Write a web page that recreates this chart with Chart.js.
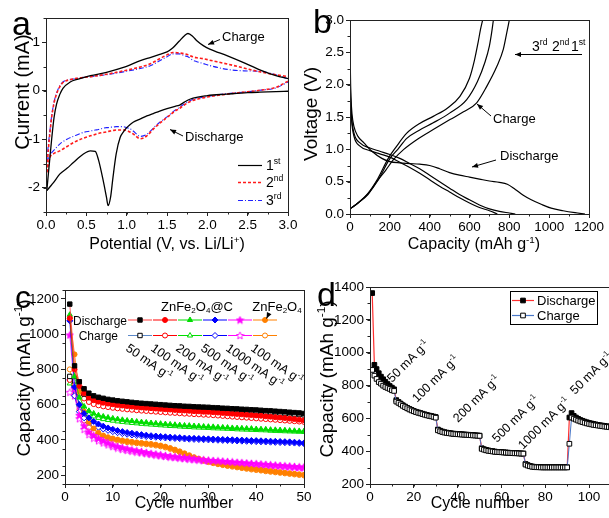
<!DOCTYPE html>
<html>
<head>
<meta charset="utf-8">
<script src="https://cdn.jsdelivr.net/npm/chart.js@4.4.1/dist/chart.umd.min.js"></script>
<style>
  html, body { margin: 0; padding: 0; background: #fff; width: 609px; height: 518px; overflow: hidden; }
  canvas { position: absolute; left: 0; top: 0; }
</style>
</head>
<body>
<canvas id="chartA" width="620" height="518"></canvas>
<canvas id="chartB" width="620" height="518"></canvas>
<canvas id="chartC" width="620" height="518"></canvas>
<canvas id="chartD" width="620" height="518"></canvas>
<script>
// ---------- panel a: cyclic voltammetry ----------
const aChargeV = [0.01, 0.03, 0.05, 0.07, 0.1, 0.13, 0.17, 0.21, 0.3, 0.4, 0.55, 0.75, 0.96, 1.17, 1.3, 1.41, 1.5, 1.57, 1.65, 1.72, 1.76, 1.82, 1.87, 1.95, 2.03, 2.25, 2.45, 2.65, 2.85, 3.0];
const a1Charge = [-2.06, -1.7, -1.35, -1.0, -0.55, -0.28, -0.08, 0.05, 0.18, 0.24, 0.31, 0.38, 0.48, 0.62, 0.69, 0.75, 0.8, 0.88, 1.02, 1.14, 1.18, 1.12, 1.03, 0.93, 0.86, 0.72, 0.58, 0.43, 0.31, 0.25];
const a2Charge = [-1.68, -1.2, -0.85, -0.55, -0.25, -0.07, 0.08, 0.17, 0.23, 0.26, 0.29, 0.34, 0.41, 0.49, 0.56, 0.66, 0.74, 0.79, 0.78, 0.76, 0.74, 0.7, 0.68, 0.66, 0.63, 0.55, 0.47, 0.39, 0.33, 0.29];
const a3Charge = [-1.47, -1.1, -0.8, -0.52, -0.23, -0.05, 0.1, 0.18, 0.23, 0.26, 0.29, 0.33, 0.39, 0.46, 0.52, 0.62, 0.7, 0.76, 0.76, 0.72, 0.7, 0.63, 0.6, 0.56, 0.52, 0.44, 0.41, 0.4, 0.33, 0.24];
const aDischargeV = [0.01, 0.05, 0.09, 0.17, 0.26, 0.34, 0.46, 0.55, 0.61, 0.65, 0.71, 0.75, 0.77, 0.8, 0.83, 0.87, 0.92, 0.96, 1.0, 1.04, 1.08, 1.17, 1.25, 1.33, 1.41, 1.5, 1.6, 1.65, 1.7, 1.79, 2.0, 2.24, 2.5, 2.65, 2.85, 3.0];
const a1Discharge = [-2.06, -1.98, -1.9, -1.72, -1.6, -1.48, -1.31, -1.24, -1.25, -1.42, -1.86, -2.2, -2.37, -2.2, -1.79, -1.3, -0.96, -0.85, -0.76, -0.7, -0.65, -0.58, -0.52, -0.47, -0.42, -0.37, -0.32, -0.3, -0.25, -0.17, -0.1, -0.07, -0.04, -0.03, -0.02, -0.01];
const a2Discharge = [-1.68, -1.37, -1.3, -1.24, -1.15, -1.07, -0.98, -0.93, -0.9, -0.88, -0.86, -0.85, -0.84, -0.83, -0.82, -0.81, -0.81, -0.81, -0.82, -0.85, -0.89, -0.99, -0.93, -0.79, -0.67, -0.55, -0.42, -0.37, -0.31, -0.22, -0.13, -0.07, -0.02, 0.01, 0.07, 0.2];
const a3Discharge = [-1.47, -1.32, -1.24, -1.1, -1.0, -0.94, -0.86, -0.83, -0.81, -0.8, -0.77, -0.76, -0.76, -0.75, -0.75, -0.74, -0.74, -0.74, -0.76, -0.78, -0.83, -0.94, -0.9, -0.77, -0.65, -0.54, -0.4, -0.35, -0.29, -0.2, -0.12, -0.06, -0.02, 0.01, 0.06, 0.18];
const aXTicks = [0, 0.5, 1, 1.5, 2, 2.5, 3];
const aXLabels = ['0.0', '0.5', '1.0', '1.5', '2.0', '2.5', '3.0'];
const aYTicks = [-2, -1, 0, 1];
const aYLabels = ['-2', '-1', '0', '1'];

// ---------- panel b: charge / discharge profiles ----------
const b1ChargeCap = [0, 40, 90, 134, 180, 218, 270, 335, 420, 502, 570, 636, 686, 737, 770, 787, 800];
const b1ChargeV = [0.08, 0.17, 0.3, 0.5, 0.68, 0.84, 1.0, 1.15, 1.31, 1.46, 1.58, 1.72, 1.97, 2.28, 2.55, 2.8, 3.0];
const b2ChargeCap = [0, 40, 90, 140, 201, 240, 285, 350, 418, 500, 586, 640, 678, 700, 711, 720];
const b2ChargeV = [0.08, 0.17, 0.31, 0.52, 0.86, 1.0, 1.17, 1.3, 1.41, 1.56, 1.77, 2.05, 2.35, 2.6, 2.8, 3.0];
const b3ChargeCap = [0, 40, 90, 140, 192, 230, 285, 350, 418, 490, 552, 600, 625, 643, 655, 666];
const b3ChargeV = [0.08, 0.17, 0.32, 0.55, 0.86, 1.03, 1.25, 1.4, 1.51, 1.64, 1.82, 2.1, 2.38, 2.65, 2.85, 3.0];
const b1DischargeCap = [0, 2, 5, 10, 20, 40, 70, 110, 160, 200, 250, 300, 350, 400, 450, 500, 550, 600, 650, 700, 750, 790, 830, 870, 910, 960, 1010, 1070, 1130, 1180];
const b1DischargeV = [2.85, 2.2, 1.8, 1.55, 1.35, 1.2, 1.1, 0.97, 0.86, 0.81, 0.79, 0.78, 0.77, 0.75, 0.7, 0.64, 0.6, 0.57, 0.54, 0.51, 0.49, 0.46, 0.38, 0.29, 0.22, 0.15, 0.09, 0.05, 0.02, 0];
const b2DischargeCap = [0, 3, 8, 20, 50, 100, 150, 200, 250, 300, 350, 400, 450, 500, 550, 600, 650, 700, 750, 800, 830];
const b2DischargeV = [2.3, 1.8, 1.5, 1.25, 1.1, 1.02, 0.97, 0.92, 0.86, 0.78, 0.7, 0.6, 0.5, 0.4, 0.3, 0.22, 0.14, 0.08, 0.04, 0.015, 0];
const b3DischargeCap = [0, 3, 8, 20, 50, 100, 150, 200, 250, 300, 350, 400, 450, 500, 550, 600, 650, 700, 740];
const b3DischargeV = [2.2, 1.75, 1.45, 1.2, 1.05, 0.98, 0.93, 0.88, 0.8, 0.72, 0.63, 0.53, 0.43, 0.34, 0.25, 0.17, 0.1, 0.05, 0];
const bXTicks = [0, 200, 400, 600, 800, 1000, 1200];
const bXLabels = ['0', '200', '400', '600', '800', '1000', '1200'];
const bYTicks = [0, 0.5, 1, 1.5, 2, 2.5, 3];
const bYLabels = ['0.0', '0.5', '1.0', '1.5', '2.0', '2.5', '3.0'];

// ---------- panel c: cycling at different rates ----------
const cBlackD = [1170, 820, 730, 690, 665, 650, 642, 636, 630, 626, 622, 619, 616, 613, 610, 608, 606, 604, 602, 600, 598, 596, 594, 593, 591, 590, 588, 587, 586, 585, 583, 582, 580, 579, 577, 576, 574, 573, 571, 570, 568, 566, 565, 563, 561, 559, 557, 555, 553, 550];
const cBlackC = [760, 735, 690, 660, 642, 632, 625, 620, 616, 612, 609, 606, 604, 601, 599, 597, 595, 593, 591, 590, 588, 586, 585, 583, 582, 580, 579, 578, 577, 575, 574, 572, 571, 569, 568, 566, 565, 563, 562, 560, 559, 557, 555, 554, 552, 550, 548, 546, 544, 542];
const cRedD = [1090, 800, 705, 665, 640, 625, 617, 611, 606, 602, 598, 595, 592, 589, 587, 584, 582, 580, 578, 576, 574, 572, 570, 568, 567, 565, 563, 562, 560, 559, 557, 555, 553, 551, 549, 547, 545, 543, 541, 539, 537, 534, 532, 529, 527, 524, 521, 518, 515, 512];
const cRedC = [740, 715, 665, 635, 615, 603, 596, 590, 586, 582, 579, 576, 573, 571, 568, 566, 564, 562, 560, 558, 556, 554, 553, 551, 549, 548, 546, 545, 543, 542, 540, 538, 536, 534, 532, 530, 528, 526, 524, 522, 520, 518, 516, 514, 512, 510, 508, 506, 504, 502];
const cGreenD = [1110, 760, 640, 590, 565, 550, 540, 533, 527, 522, 518, 514, 510, 507, 504, 501, 499, 496, 494, 492, 490, 488, 486, 484, 482, 481, 479, 478, 476, 475, 474, 472, 471, 470, 468, 467, 466, 465, 464, 462, 461, 460, 458, 457, 456, 455, 453, 452, 451, 450];
const cGreenC = [720, 690, 600, 565, 545, 533, 525, 518, 513, 509, 505, 502, 499, 496, 494, 491, 489, 487, 485, 483, 481, 479, 478, 476, 474, 473, 471, 470, 469, 468, 466, 465, 464, 463, 462, 460, 459, 458, 457, 456, 455, 454, 452, 451, 450, 449, 448, 447, 446, 445];
const cBlueD = [1075, 700, 600, 550, 525, 505, 490, 478, 468, 460, 453, 447, 442, 438, 434, 430, 427, 424, 422, 420, 418, 416, 414, 413, 411, 410, 409, 408, 407, 406, 405, 404, 403, 402, 401, 400, 399, 398, 397, 396, 395, 394, 393, 392, 391, 390, 389, 387, 385, 383];
const cBlueC = [740, 650, 560, 525, 500, 485, 472, 462, 454, 447, 441, 436, 432, 428, 425, 422, 419, 417, 415, 413, 411, 410, 408, 407, 405, 404, 403, 402, 401, 400, 399, 398, 397, 396, 395, 394, 393, 392, 391, 390, 389, 388, 387, 386, 385, 384, 383, 382, 380, 378];
const cMagentaD = [995, 690, 540, 480, 445, 425, 408, 395, 383, 372, 363, 356, 350, 344, 339, 334, 329, 324, 320, 316, 312, 308, 305, 302, 300, 297, 294, 291, 288, 285, 283, 281, 279, 277, 275, 273, 271, 269, 267, 265, 263, 261, 259, 257, 255, 253, 251, 249, 247, 246];
const cMagentaC = [670, 650, 520, 460, 430, 410, 395, 383, 372, 362, 354, 347, 341, 336, 331, 327, 322, 318, 314, 310, 306, 303, 300, 297, 294, 291, 288, 286, 283, 281, 279, 277, 275, 273, 271, 269, 267, 265, 263, 261, 259, 257, 255, 253, 251, 249, 247, 245, 243, 242];
const cOrangeD = [1090, 885, 675, 560, 500, 465, 440, 425, 415, 408, 402, 397, 393, 389, 386, 383, 380, 377, 373, 368, 362, 354, 345, 335, 324, 313, 302, 293, 285, 278, 272, 266, 261, 256, 252, 248, 244, 240, 236, 233, 230, 226, 223, 220, 217, 214, 211, 208, 205, 202];
const cOrangeC = [800, 660, 570, 510, 470, 445, 428, 416, 408, 401, 396, 391, 387, 384, 381, 378, 375, 372, 368, 363, 357, 349, 340, 330, 319, 308, 298, 289, 281, 274, 268, 262, 257, 252, 248, 244, 240, 236, 232, 229, 226, 222, 219, 216, 213, 210, 207, 204, 201, 198];
const cRates = ['50', '100', '200', '500', '1000', '100'];
const cXTicks = [0, 10, 20, 30, 40, 50];
const cXLabels = ['0', '10', '20', '30', '40', '50'];
const cYTicks = [200, 400, 600, 800, 1000, 1200];
const cYLabels = ['200', '400', '600', '800', '1000', '1200'];

// ---------- panel d: rate capability ----------
const dDischarge = [1363, 926, 900, 875, 854, 838, 823, 809, 797, 787, 777,
  711, 700, 690, 680, 672, 664, 657, 651, 645, 640, 636, 632, 628, 624, 620, 617, 614, 611, 608,
  532, 525, 520, 516, 513, 511, 509, 507, 506, 505, 504, 503, 502, 501, 500, 499, 498, 497, 496, 495,
  418, 412, 408, 405, 402, 400, 398, 396, 395, 394, 393, 392, 391, 390, 389, 388, 388, 387, 386, 386,
  322, 315, 310, 307, 305, 304, 303, 303, 302, 302, 302, 302, 302, 302, 302, 302, 302, 302, 302, 302,
  605, 632, 615, 605, 597, 590, 585, 580, 576, 572, 569, 566, 563, 560, 558, 556, 554, 552, 550, 548];
const dCharge = [895, 860, 840, 821, 811, 799, 791, 785, 779, 771, 767,
  702, 694, 685, 676, 668, 661, 654, 648, 643, 638, 634, 630, 626, 622, 618, 615, 612, 609, 604,
  527, 521, 517, 513, 511, 509, 507, 505, 504, 503, 502, 501, 500, 499, 498, 497, 496, 495, 494, 493,
  414, 409, 405, 402, 400, 398, 396, 395, 394, 393, 392, 391, 390, 389, 388, 387, 387, 386, 385, 385,
  318, 312, 308, 305, 303, 302, 302, 301, 301, 301, 301, 301, 301, 301, 301, 301, 301, 301, 301, 301,
  445, 605, 598, 592, 586, 581, 577, 573, 569, 566, 563, 560, 558, 556, 554, 552, 550, 548, 547, 545];
const dRates = ['50', '100', '200', '500', '1000', '50'];
const dXTicks = [0, 20, 40, 60, 80, 100];
const dXLabels = ['0', '20', '40', '60', '80', '100'];
const dYTicks = [200, 400, 600, 800, 1000, 1200, 1400];
const dYLabels = ['200', '400', '600', '800', '1000', '1200', '1400'];

// ---------- helpers ----------
const FONT = "'Liberation Sans', Arial, sans-serif";
const W = 620, H = 518;

const pts = (xs, ys) => xs.map((x, i) => ({ x: x, y: ys[i] }));
const cyc = ys => ys.map((y, i) => ({ x: i + 1, y: y }));

// draw text made of plain / superscript / subscript pieces
function richText(ctx, parts, x, y, size, align) {
  const pieces = parts.map(p => typeof p === 'string' ? [p, ''] : p);
  const w = pieces.reduce((s, [t, k]) => {
    ctx.font = (k ? size * 0.62 : size) + 'px ' + FONT;
    return s + ctx.measureText(t).width;
  }, 0);
  let cx = align === 'center' ? x - w / 2 : (align === 'right' ? x - w : x);
  ctx.textAlign = 'left';
  ctx.textBaseline = 'alphabetic';
  pieces.forEach(([t, k]) => {
    ctx.font = (k ? size * 0.62 : size) + 'px ' + FONT;
    const dy = k === 'sup' ? -size * 0.4 : (k === 'sub' ? size * 0.18 : 0);
    ctx.fillText(t, cx, y + dy);
    cx += ctx.measureText(t).width;
  });
}

function rotatedText(ctx, parts, x, y, size, angle, align) {
  ctx.save();
  ctx.translate(x, y);
  ctx.rotate(angle);
  richText(ctx, parts, 0, 0, size, align);
  ctx.restore();
}

function arrow(ctx, x1, y1, x2, y2) {
  const a = Math.atan2(y2 - y1, x2 - x1);
  ctx.beginPath();
  ctx.moveTo(x1, y1);
  ctx.lineTo(x2, y2);
  ctx.stroke();
  ctx.beginPath();
  ctx.moveTo(x2, y2);
  ctx.lineTo(x2 - 6 * Math.cos(a) + 2.5 * Math.sin(a), y2 - 6 * Math.sin(a) - 2.5 * Math.cos(a));
  ctx.lineTo(x2 - 6 * Math.cos(a) - 2.5 * Math.sin(a), y2 - 6 * Math.sin(a) + 2.5 * Math.cos(a));
  ctx.closePath();
  ctx.fill();
}

function starImage(color, filled) {
  const c = document.createElement('canvas');
  c.width = 9; c.height = 9;
  const g = c.getContext('2d');
  g.beginPath();
  for (let i = 0; i < 10; i++) {
    const r = i % 2 ? 1.7 : 3.9;
    const a = -Math.PI / 2 + i * Math.PI / 5;
    g.lineTo(4.5 + r * Math.cos(a), 4.8 + r * Math.sin(a));
  }
  g.closePath();
  g.fillStyle = filled ? color : '#fff';
  g.fill();
  g.strokeStyle = color;
  g.lineWidth = 0.9;
  g.stroke();
  return c;
}

// box around the plot + short minor ticks (Origin style)
const framePlugin = {
  id: 'frame',
  afterDraw(chart, args, o) {
    const { ctx, chartArea: a } = chart;
    const x = chart.scales.x, y = chart.scales.y;
    ctx.save();
    ctx.strokeStyle = '#222';
    ctx.lineWidth = 1;
    ctx.strokeRect(Math.round(a.left) + 0.5, Math.round(a.top) + 0.5, Math.round(a.right - a.left), Math.round(a.bottom - a.top));
    ctx.beginPath();
    for (let v = x.min; v <= x.max + 1e-9; v += o.xMinor) {
      const px = Math.round(x.getPixelForValue(v)) + 0.5;
      ctx.moveTo(px, a.bottom); ctx.lineTo(px, a.bottom + 2.5);
    }
    for (let v = y.min; v <= y.max + 1e-9; v += o.yMinor) {
      const py = Math.round(y.getPixelForValue(v)) + 0.5;
      ctx.moveTo(a.left, py); ctx.lineTo(a.left - 2.5, py);
    }
    ctx.stroke();
    ctx.restore();
  }
};

function axis(kind, s, area) {
  return {
    type: 'linear',
    min: s.min,
    max: s.max,
    afterBuildTicks: sc => { sc.ticks = s.ticks.map(v => ({ value: v })); },
    afterFit: sc => { if (kind === 'x') sc.height = H - area.b; else sc.width = area.l; },
    ticks: {
      autoSkip: false, maxRotation: 0, color: '#000', padding: kind === 'x' ? 1 : 2,
      font: { family: FONT, size: 13.5 },
      callback: (v, i) => s.labels[i]
    },
    grid: { drawOnChartArea: false, drawTicks: true, tickLength: 4, tickColor: '#222', lineWidth: 1 },
    border: { display: true, color: '#222', width: 1 }
  };
}

function options(area, xs, ys, minor) {
  return {
    responsive: false,
    animation: false,
    events: [],
    layout: { padding: { left: 0, top: area.t, right: W - area.r, bottom: 0 } },
    scales: { x: axis('x', xs, area), y: axis('y', ys, area) },
    plugins: { legend: { display: false }, tooltip: { enabled: false }, frame: minor }
  };
}

function line(data, color, width, dash) {
  return { data: data, showLine: true, borderColor: color, borderWidth: width, borderDash: dash || [],
           pointRadius: 0, cubicInterpolationMode: 'monotone', fill: false };
}

// ---------- chart a ----------
new Chart(document.getElementById('chartA'), {
  type: 'scatter',
  data: {
    datasets: [
      line(pts(aDischargeV, a1Discharge), '#000', 1.3),
      line(pts(aChargeV, a1Charge), '#000', 1.3),
      line(pts(aDischargeV, a2Discharge), '#ff1a1a', 1.6, [3, 2]),
      line(pts(aChargeV, a2Charge), '#ff1a1a', 1.6, [3, 2]),
      line(pts(aDischargeV, a3Discharge), '#2020ff', 1.1, [5, 2, 1, 2]),
      line(pts(aChargeV, a3Charge), '#2020ff', 1.1, [5, 2, 1, 2])
    ]
  },
  options: options({ l: 46, t: 18, r: 288, b: 212 },
    { min: 0, max: 3, ticks: aXTicks, labels: aXLabels },
    { min: -2.5, max: 1.5, ticks: aYTicks, labels: aYLabels },
    { xMinor: 0.25, yMinor: 0.5 }),
  plugins: [framePlugin, {
    id: 'decorA',
    afterDraw(chart) {
      const ctx = chart.ctx;
      ctx.save();
      ctx.fillStyle = '#000'; ctx.strokeStyle = '#000'; ctx.lineWidth = 1;
      richText(ctx, ['a'], 12, 35, 34, 'left');
      richText(ctx, ['Potential (V, vs. Li/Li', ['+', 'sup'], ')'], 167, 249, 16, 'center');
      rotatedText(ctx, ['Current (mA)'], 28.5, 92, 20, -Math.PI / 2, 'center');
      richText(ctx, ['Charge'], 222, 41, 13, 'left');
      arrow(ctx, 220, 39.5, 208, 44.5);
      richText(ctx, ['Discharge'], 185, 141, 13, 'left');
      arrow(ctx, 183, 136, 170, 129.5);
      // legend
      const rows = [[165, '#000', [], '1', 'st'], [182, '#ff1a1a', [3, 2], '2', 'nd'], [200, '#2020ff', [5, 2, 1, 2], '3', 'rd']];
      rows.forEach(([y, c, d, n, s]) => {
        ctx.save();
        ctx.strokeStyle = c; ctx.lineWidth = c === '#ff1a1a' ? 1.6 : 1.2; ctx.setLineDash(d);
        ctx.beginPath(); ctx.moveTo(238, y + 0.5); ctx.lineTo(262, y + 0.5); ctx.stroke();
        ctx.restore();
        richText(ctx, [n, [s, 'sup']], 266, y + 5, 14, 'left');
      });
      ctx.restore();
    }
  }]
});

// ---------- chart b ----------
new Chart(document.getElementById('chartB'), {
  type: 'scatter',
  data: {
    datasets: [
      line(pts(b1DischargeCap, b1DischargeV), '#000', 1.2),
      line(pts(b2DischargeCap, b2DischargeV), '#000', 1.2),
      line(pts(b3DischargeCap, b3DischargeV), '#000', 1.2),
      line(pts(b1ChargeCap, b1ChargeV), '#000', 1.2),
      line(pts(b2ChargeCap, b2ChargeV), '#000', 1.2),
      line(pts(b3ChargeCap, b3ChargeV), '#000', 1.2)
    ]
  },
  options: options({ l: 350, t: 20, r: 589, b: 214 },
    { min: 0, max: 1200, ticks: bXTicks, labels: bXLabels },
    { min: 0, max: 3, ticks: bYTicks, labels: bYLabels },
    { xMinor: 100, yMinor: 0.25 }),
  plugins: [framePlugin, {
    id: 'decorB',
    afterDraw(chart) {
      const ctx = chart.ctx;
      ctx.save();
      ctx.fillStyle = '#000'; ctx.strokeStyle = '#000'; ctx.lineWidth = 1;
      richText(ctx, ['b'], 313, 33, 34, 'left');
      richText(ctx, ['Capacity (mAh g', ['-1', 'sup'], ')'], 474, 249, 16, 'center');
      rotatedText(ctx, ['Voltage (V)'], 316.5, 114, 19, -Math.PI / 2, 'center');
      richText(ctx, ['Charge'], 493, 123, 13, 'left');
      arrow(ctx, 491, 116, 477, 104);
      richText(ctx, ['Discharge'], 500, 160, 13, 'left');
      arrow(ctx, 496, 160, 472, 167);
      richText(ctx, ['3', ['rd', 'sup']], 532, 51, 14, 'left');
      richText(ctx, ['2', ['nd', 'sup']], 552, 51, 14, 'left');
      richText(ctx, ['1', ['st', 'sup']], 571, 51, 14, 'left');
      arrow(ctx, 582, 54.5, 515, 54.5);
      ctx.restore();
    }
  }]
});

// ---------- chart c ----------
const cColors = ['#000000', '#ff0000', '#00dd00', '#0000ff', '#ff00ff', '#ff8000'];
const cLineD = ['#ff4040', '#ff0000', '#00dd00', '#0000ff', '#ff00ff', '#ff8000'];
const cLineC = ['#5b88c8', '#ff0000', '#00dd00', '#0000ff', '#ff00ff', '#ff8000'];
const cStyles = ['rect', 'circle', 'triangle', 'rectRot', 'star', 'circle'];
const cRadius = { rect: 3.1, circle: 2.5, triangle: 3.0, rectRot: 3.0, star: 4 };
const cD = [cBlackD, cRedD, cGreenD, cBlueD, cMagentaD, cOrangeD];
const cC = [cBlackC, cRedC, cGreenC, cBlueC, cMagentaC, cOrangeC];

function cPoint(i, filled) {
  const st = cStyles[i];
  return {
    pointStyle: st === 'star' ? starImage(cColors[i], filled) : st,
    pointRadius: cRadius[st],
    pointBackgroundColor: filled ? cColors[i] : '#fff',
    pointBorderColor: cColors[i],
    pointBorderWidth: 1
  };
}

const cDatasets = [];
cD.forEach((vals, i) => {
  cDatasets.push(Object.assign({ data: cyc(vals), showLine: true, borderColor: cLineD[i], borderWidth: 0.8 }, cPoint(i, true)));
});
cC.forEach((vals, i) => {
  cDatasets.push(Object.assign({ data: cyc(vals), showLine: true, borderColor: cLineC[i], borderWidth: 0.8 }, cPoint(i, false)));
});

new Chart(document.getElementById('chartC'), {
  type: 'scatter',
  data: { datasets: cDatasets },
  options: options({ l: 65, t: 290, r: 304, b: 484 },
    { min: 0, max: 50, ticks: cXTicks, labels: cXLabels },
    { min: 150, max: 1250, ticks: cYTicks, labels: cYLabels },
    { xMinor: 5, yMinor: 100 }),
  plugins: [framePlugin, {
    id: 'decorC',
    afterDraw(chart) {
      const ctx = chart.ctx;
      ctx.save();
      ctx.fillStyle = '#000'; ctx.strokeStyle = '#000'; ctx.lineWidth = 1;
      richText(ctx, ['c'], 15, 308, 32, 'left');
      richText(ctx, ['Cycle number'], 184, 508, 16, 'center');
      rotatedText(ctx, ['Capacity (mAh g', ['-1', 'sup'], ')'], 30, 378, 19, -Math.PI / 2, 'center');
      const xs = [140, 165, 190, 215, 240, 265];
      xs.forEach((x, i) => {
        [[320, true, cLineD[i]], [335.5, false, cLineC[i]]].forEach(([y, filled, lc]) => {
          ctx.save();
          ctx.fillStyle = '#fff';
          ctx.fillRect(x - 12.5, y - 4, 25, 8);
          ctx.strokeStyle = lc; ctx.lineWidth = 1;
          ctx.beginPath(); ctx.moveTo(x - 12, y); ctx.lineTo(x + 12, y); ctx.stroke();
          ctx.strokeStyle = cColors[i];
          ctx.fillStyle = filled ? cColors[i] : '#fff';
          const p = cPoint(i, filled);
          Chart.helpers.drawPoint(ctx, { pointStyle: p.pointStyle, radius: p.pointRadius, rotation: 0, borderWidth: 1 }, x, y);
          ctx.restore();
        });
        ctx.fillStyle = '#000';
        rotatedText(ctx, [cRates[i] + ' mA g', ['-1', 'sup']], x - 15, 350, 12.5, 35 * Math.PI / 180, 'left');
      });
      richText(ctx, ['Discharge'], 127, 324.5, 12, 'right');
      richText(ctx, ['Charge'], 118, 340, 12, 'right');
      richText(ctx, ['ZnFe', ['2', 'sub'], 'O', ['4', 'sub'], '@C'], 197, 311, 13, 'center');
      richText(ctx, ['ZnFe', ['2', 'sub'], 'O', ['4', 'sub']], 277, 311, 13, 'center');
      arrow(ctx, 269, 313.5, 266.5, 318.5);
      ctx.restore();
    }
  }]
});

// ---------- chart d ----------
new Chart(document.getElementById('chartD'), {
  type: 'scatter',
  data: {
    datasets: [
      { data: cyc(dCharge), showLine: true, borderColor: '#4a78c8', borderWidth: 1,
        pointStyle: 'rect', pointRadius: 3.3, pointBackgroundColor: '#fff', pointBorderColor: '#000', pointBorderWidth: 1 },
      { data: cyc(dDischarge), showLine: true, borderColor: '#ff3030', borderWidth: 1.2,
        pointStyle: 'rect', pointRadius: 3.3, pointBackgroundColor: '#000', pointBorderColor: '#000', pointBorderWidth: 1 }
    ]
  },
  options: options({ l: 370, t: 287, r: 611, b: 484 },
    { min: 0, max: 110, ticks: dXTicks, labels: dXLabels },
    { min: 200, max: 1400, ticks: dYTicks, labels: dYLabels },
    { xMinor: 10, yMinor: 100 }),
  plugins: [framePlugin, {
    id: 'decorD',
    afterDraw(chart) {
      const ctx = chart.ctx;
      ctx.save();
      ctx.fillStyle = '#000'; ctx.strokeStyle = '#000'; ctx.lineWidth = 1;
      richText(ctx, ['d'], 317, 306, 34, 'left');
      richText(ctx, ['Cycle number'], 480, 508, 16, 'center');
      rotatedText(ctx, ['Capacity (mAh g', ['-1', 'sup'], ')'], 333, 379, 19, -Math.PI / 2, 'center');
      // legend box
      ctx.fillStyle = '#fff';
      ctx.fillRect(510, 291, 87, 33);
      ctx.strokeRect(510.5, 291.5, 87, 33);
      [[300.5, '#ff3030', '#000', 'Discharge'], [315.5, '#4a78c8', '#fff', 'Charge']].forEach(([y, lc, fc, t]) => {
        ctx.strokeStyle = lc; ctx.lineWidth = 1.2;
        ctx.beginPath(); ctx.moveTo(512, y); ctx.lineTo(534, y); ctx.stroke();
        ctx.fillStyle = fc; ctx.strokeStyle = '#000'; ctx.lineWidth = 1;
        Chart.helpers.drawPoint(ctx, { pointStyle: 'rect', radius: 3.3, rotation: 0, borderWidth: 1 }, 523, y);
        ctx.fillStyle = '#000';
        richText(ctx, [t], 537, y + 4.5, 13, 'left');
      });
      // rate labels
      const pos = [[392, 383], [417, 403], [458, 423], [497, 443], [523, 450], [575, 395]];
      pos.forEach(([x, y], i) => {
        rotatedText(ctx, [dRates[i] + ' mA g', ['-1', 'sup']], x, y, 12.5, -45 * Math.PI / 180, 'left');
      });
      ctx.restore();
    }
  }]
});
</script>
</body>
</html>
